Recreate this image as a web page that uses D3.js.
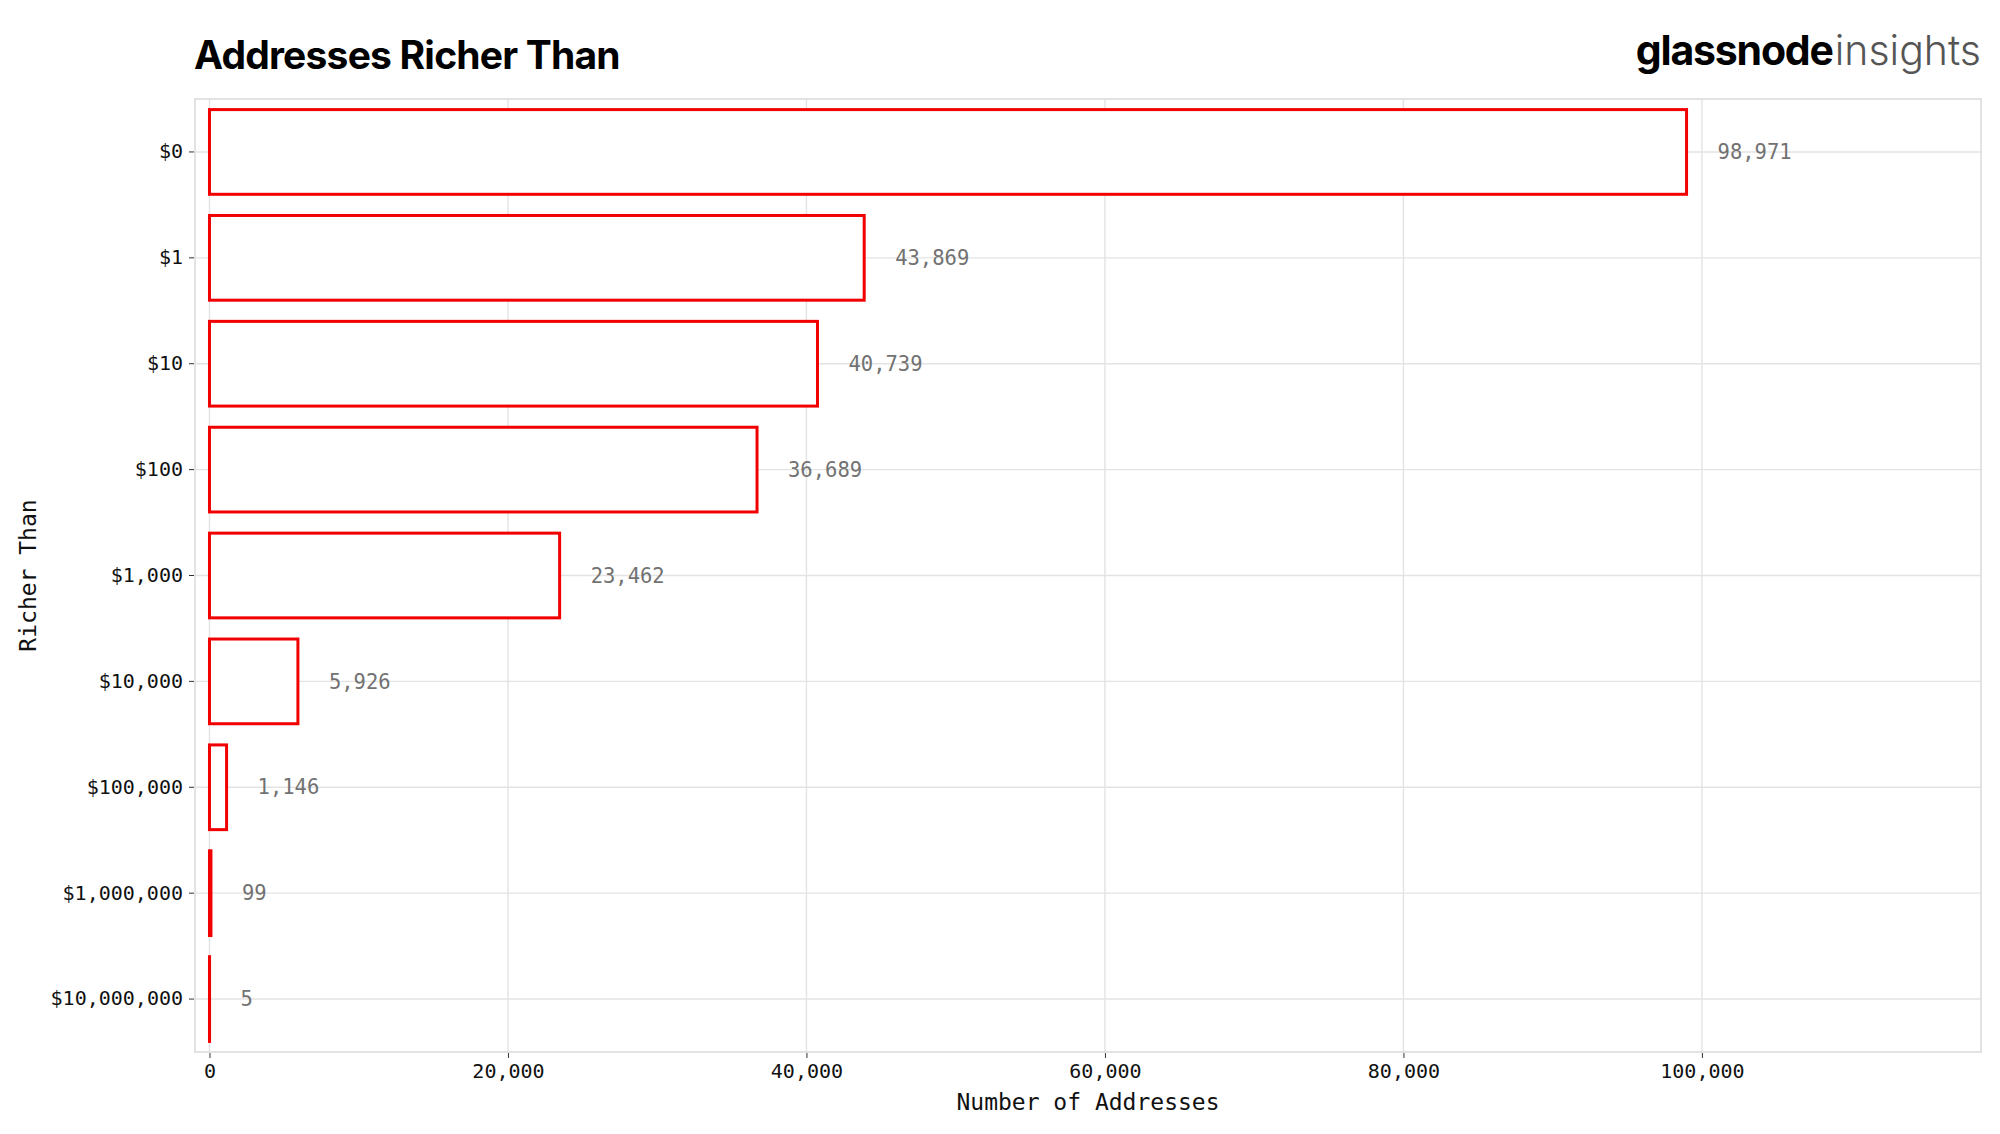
<!DOCTYPE html>
<html>
<head>
<meta charset="utf-8">
<script src="https://cdn.jsdelivr.net/npm/d3@7"></script>
<style>
  body { margin: 0; background: #fff; }
</style>
</head>
<body>
<div id="chart"></div>
<script>
// data
var categories = ["$0", "$1", "$10", "$100", "$1,000", "$10,000", "$100,000", "$1,000,000", "$10,000,000"];
var addresses = [98971, 43869, 40739, 36689, 23462, 5926, 1146, 99, 5];
var xTicks = [0, 20000, 40000, 60000, 80000, 100000];

var width = 2000, height = 1134;
var pLeft = 195, pRight = 1981, pTop = 99, pBottom = 1052;
var mono = "DejaVu Sans Mono, monospace";

var svg = d3.select("#chart")
            .append("svg")
            .attr("width", width)
            .attr("height", height)
            .attr("font-family", mono);

svg.append("rect").attr("width", width).attr("height", height).attr("fill", "#fff");

var x = d3.scaleLinear().domain([-970, 118700]).range([pLeft, pRight]);
var y = d3.scaleBand().domain(categories).range([pTop, pBottom]).paddingInner(0.2).paddingOuter(0.1);

var fmt = d3.format(",");

// grid
var grid = svg.append("g");
grid.selectAll(".vg").data(xTicks).enter().append("line")
    .attr("x1", d => x(d)).attr("x2", d => x(d))
    .attr("y1", pTop).attr("y2", pBottom)
    .attr("stroke", "#e3e3e3").attr("stroke-width", 1.4);
grid.selectAll(".hg").data(categories).enter().append("line")
    .attr("x1", pLeft).attr("x2", pRight)
    .attr("y1", d => y(d) + y.bandwidth() / 2).attr("y2", d => y(d) + y.bandwidth() / 2)
    .attr("stroke", "#e3e3e3").attr("stroke-width", 1.4);

// bars
svg.selectAll(".bar").data(addresses).enter().append("rect")
    .attr("x", x(0))
    .attr("y", (d, i) => y(categories[i]))
    .attr("width", d => x(d) - x(0))
    .attr("height", y.bandwidth())
    .attr("fill", "#fff")
    .attr("stroke", "#f20000")
    .attr("stroke-width", 3);

// value labels
svg.selectAll(".lbl").data(addresses).enter().append("text")
    .attr("x", d => x(d) + 31)
    .attr("y", (d, i) => y(categories[i]) + y.bandwidth() / 2)
    .attr("dy", "0.35em")
    .attr("font-size", 20.5)
    .attr("fill", "#727272")
    .text(d => fmt(d));

// panel border
svg.append("rect")
    .attr("x", pLeft).attr("y", pTop)
    .attr("width", pRight - pLeft).attr("height", pBottom - pTop)
    .attr("fill", "none").attr("stroke", "#dcdcdc").attr("stroke-width", 1.6);

// axes
var xAxis = svg.append("g")
    .attr("transform", "translate(0," + (pBottom + 1) + ")")
    .call(d3.axisBottom(x).tickValues(xTicks).tickFormat(fmt).tickSize(5).tickPadding(6));
xAxis.select(".domain").remove();
xAxis.selectAll("line").attr("stroke", "#333");
xAxis.selectAll("text").attr("font-size", 20).attr("fill", "#111").attr("font-family", mono);

var yAxis = svg.append("g")
    .attr("transform", "translate(" + (pLeft - 1) + ",0)")
    .call(d3.axisLeft(y).tickSize(5).tickPadding(6));
yAxis.select(".domain").remove();
yAxis.selectAll("line").attr("stroke", "#333");
yAxis.selectAll("text").attr("font-size", 20).attr("fill", "#111").attr("font-family", mono);

// axis titles
svg.append("text")
    .attr("x", (pLeft + pRight) / 2).attr("y", 1110)
    .attr("text-anchor", "middle")
    .attr("font-size", 23).attr("fill", "#111")
    .text("Number of Addresses");

svg.append("text")
    .attr("transform", "translate(36," + (pTop + pBottom) / 2 + ") rotate(-90)")
    .attr("text-anchor", "middle")
    .attr("font-size", 23).attr("fill", "#111")
    .text("Richer Than");

// title + logo
svg.append("text")
    .attr("x", 194).attr("y", 69)
    .attr("font-family", "Inter, Lato, sans-serif")
    .attr("font-weight", 700).attr("font-size", 39)
    .attr("letter-spacing", -0.8)
    .attr("fill", "#000")
    .text("Addresses Richer Than");

var logo = svg.append("text")
    .attr("x", 1981).attr("y", 65)
    .attr("text-anchor", "end")
    .attr("font-family", "Inter, Lato, sans-serif")
    .attr("font-size", 41);
logo.append("tspan").attr("font-weight", 700).attr("letter-spacing", -1.2).attr("fill", "#000").text("glassnode");
logo.append("tspan").attr("font-weight", 300).attr("fill", "#555").attr("dx", 2).text("insights");
</script>
</body>
</html>
